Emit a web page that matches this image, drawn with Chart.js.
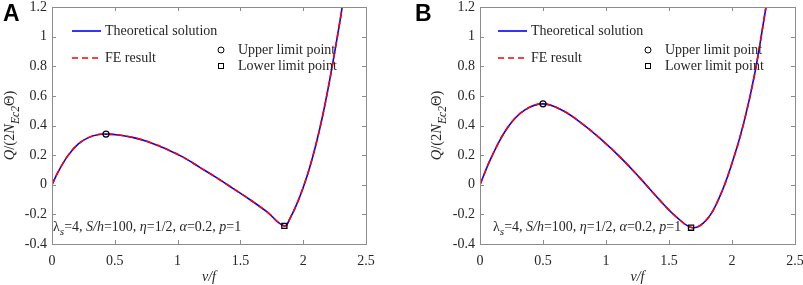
<!DOCTYPE html>
<html>
<head>
<meta charset="utf-8">
<script src="https://cdn.jsdelivr.net/npm/chart.js@4/dist/chart.umd.min.js"></script>
<style>
  html, body { margin: 0; padding: 0; background: #fff; }
  #wrap { position: relative; width: 803px; height: 285px; overflow: hidden; }
  canvas { position: absolute; top: 0; }
  #cA { left: 0; }
  #cB { left: 400px; }
</style>
</head>
<body>
<div id="wrap">
  <canvas id="cA" width="400" height="285"></canvas>
  <canvas id="cB" width="403" height="285"></canvas>
</div>
<script>
// ---------- data ----------
const xA = [0, 0.05, 0.13, 0.21, 0.29, 0.37, 0.43, 0.53, 0.65, 0.78, 0.91, 1.04, 1.18, 1.31, 1.44, 1.58, 1.71, 1.85, 1.90, 1.95, 2.0, 2.05, 2.10, 2.15, 2.20, 2.25, 2.30, 2.31];
const yA = [0, 0.089, 0.2, 0.276, 0.318, 0.339, 0.342, 0.336, 0.318, 0.286, 0.241, 0.188, 0.116, 0.048, -0.024, -0.103, -0.182, -0.278, -0.218, -0.128, -0.018, 0.112, 0.267, 0.447, 0.657, 0.892, 1.142, 1.2];
const upperA = [0.43, 0.342];
const lowerA = [1.85, -0.278];

const xB = [0, 0.093, 0.225, 0.357, 0.498, 0.648, 0.807, 0.966, 1.12, 1.27, 1.43, 1.56, 1.69, 1.80, 1.90, 2.0, 2.09, 2.18, 2.27];
const yB = [0, 0.19, 0.393, 0.505, 0.546, 0.505, 0.415, 0.303, 0.180, 0.045, -0.107, -0.218, -0.29, -0.235, -0.085, 0.145, 0.406, 0.748, 1.2];
const upperB = [0.50, 0.546];
const lowerB = [1.675, -0.29];

const xTickValues = [0, 0.5, 1, 1.5, 2, 2.5];
const xTickLabels = ['0', '0.5', '1', '1.5', '2', '2.5'];
const yTickValues = [-0.4, -0.2, 0, 0.2, 0.4, 0.6, 0.8, 1, 1.2];
const yTickLabels = ['-0.4', '-0.2', '0', '0.2', '0.4', '0.6', '0.8', '1', '1.2'];

const seriesNames = ['Theoretical solution', 'FE result'];
const markerNames = ['Upper limit point', 'Lower limit point'];
const panelLetters = ['A', 'B'];
const annotationParts = [
  ['λ', false, false], ['s', true, true], ['=4, ', false, false],
  ['S/h', true, false], ['=100, ', false, false],
  ['η', true, false], ['=1/2, ', false, false],
  ['α', true, false], ['=0.2, ', false, false],
  ['p', true, false], ['=1', false, false]
];
const yTitleParts = [
  ['Q', true, false], ['/(2', false, false], ['N', true, false],
  ['Ec2', true, true], ['Θ)', false, false]
];
const xTitleParts = [['v/f', true, false]];

// ---------- helpers ----------
const SERIF = '"Liberation Serif", "Times New Roman", serif';
const BLUE = '#0000ff', RED = '#ff0000', TXT = '#262626', AX = '#8c8c8c';

function measureRich(ctx, parts, size) {
  let w = 0;
  for (const [t, it, sub] of parts) {
    const fs = sub ? size * 0.8 : size;
    ctx.font = (it ? 'italic ' : '') + fs + 'px ' + SERIF;
    w += ctx.measureText(t).width;
  }
  return w;
}
function drawRich(ctx, parts, x, y, size) {
  let cx = x;
  ctx.textBaseline = 'alphabetic';
  ctx.textAlign = 'left';
  for (const [t, it, sub] of parts) {
    const fs = sub ? size * 0.8 : size;
    ctx.font = (it ? 'italic ' : '') + fs + 'px ' + SERIF;
    ctx.fillText(t, cx, y + (sub ? size * 0.32 : 0));
    cx += ctx.measureText(t).width;
  }
}
const pts = (xs, ys) => xs.map((x, i) => ({ x: x, y: ys[i] }));
function zeroPad(s) { s.paddingTop = 0; s.paddingBottom = 0; s.paddingLeft = 0; s.paddingRight = 0; }

function makeChart(id, xs, ys, up, lo, cfg) {
  const deco = {
    id: 'deco',
    afterDraw(chart) {
      const ctx = chart.ctx, ca = chart.chartArea;
      const sx = chart.scales.x, sy = chart.scales.y;
      ctx.save();
      // box
      ctx.strokeStyle = AX; ctx.lineWidth = 1;
      ctx.strokeRect(Math.round(ca.left) + 0.5, Math.round(ca.top) + 0.5,
        Math.round(ca.right - ca.left), Math.round(ca.bottom - ca.top));
      // inward ticks on all sides
      ctx.beginPath();
      xTickValues.forEach(v => {
        const p = Math.round(sx.getPixelForValue(v)) + 0.5;
        ctx.moveTo(p, ca.bottom); ctx.lineTo(p, ca.bottom - 4);
        ctx.moveTo(p, ca.top); ctx.lineTo(p, ca.top + 4);
      });
      yTickValues.forEach(v => {
        const p = Math.round(sy.getPixelForValue(v)) + 0.5;
        ctx.moveTo(ca.left, p); ctx.lineTo(ca.left + 4, p);
        ctx.moveTo(ca.right, p); ctx.lineTo(ca.right - 4, p);
      });
      ctx.stroke();

      ctx.fillStyle = TXT;
      // legend
      const lx = ca.left + cfg.legLineX, ly1 = 31, ly2 = 58;
      ctx.lineWidth = 1.6;
      ctx.strokeStyle = BLUE; ctx.setLineDash([]);
      ctx.beginPath(); ctx.moveTo(lx, ly1); ctx.lineTo(lx + 29, ly1); ctx.stroke();
      ctx.strokeStyle = RED; ctx.setLineDash([6, 4]);
      ctx.beginPath(); ctx.moveTo(lx, ly2); ctx.lineTo(lx + 29, ly2); ctx.stroke();
      ctx.setLineDash([]);
      ctx.font = '14px ' + SERIF; ctx.textBaseline = 'middle'; ctx.textAlign = 'left';
      ctx.fillText(seriesNames[0], lx + 33, ly1);
      ctx.fillText(seriesNames[1], lx + 33, ly2);
      const mx = ca.left + cfg.legMarkX, my1 = 50, my2 = 66;
      ctx.strokeStyle = '#000'; ctx.lineWidth = 1;
      ctx.beginPath(); ctx.arc(mx, my1, 3, 0, Math.PI * 2); ctx.stroke();
      ctx.strokeRect(mx - 2.5, my2 - 2.5, 5, 5);
      ctx.fillText(markerNames[0], mx + 17, my1);
      ctx.fillText(markerNames[1], mx + 17, my2);

      // annotation
      drawRich(ctx, annotationParts, ca.left + cfg.annX, 231, 14);

      // axis titles
      const xw = measureRich(ctx, xTitleParts, 14);
      drawRich(ctx, xTitleParts, (ca.left + ca.right) / 2 - xw / 2, 281, 14);
      const yw = measureRich(ctx, yTitleParts, 14.5);
      ctx.save();
      ctx.translate(cfg.yTitleX, (ca.top + ca.bottom) / 2);
      ctx.rotate(-Math.PI / 2);
      drawRich(ctx, yTitleParts, -yw / 2, 0, 14.5);
      ctx.restore();

      // panel letter
      ctx.font = 'bold 23px "Liberation Sans", Arial, sans-serif';
      ctx.fillStyle = '#000'; ctx.textBaseline = 'top'; ctx.textAlign = 'left';
      ctx.fillText(cfg.letter, cfg.letterX, 3);
      ctx.restore();
    }
  };

  return new Chart(document.getElementById(id), {
    type: 'scatter',
    data: {
      datasets: [
        { label: markerNames[0], data: [{ x: up[0], y: up[1] }], pointStyle: 'circle', pointRadius: 3,
          borderColor: '#000', backgroundColor: 'rgba(0,0,0,0)', borderWidth: 1.3, order: 0, showLine: false },
        { label: markerNames[1], data: [{ x: lo[0], y: lo[1] }], pointStyle: 'rect', pointRadius: 3.6,
          borderColor: '#000', backgroundColor: 'rgba(0,0,0,0)', borderWidth: 1.3, order: 0, showLine: false },
        { label: seriesNames[1], data: pts(xs, ys), showLine: true, borderColor: RED, borderWidth: 1.6,
          borderDash: [6, 4], pointRadius: 0, tension: 0.4, order: 1 },
        { label: seriesNames[0], data: pts(xs, ys), showLine: true, borderColor: BLUE, borderWidth: 1.6,
          pointRadius: 0, tension: 0.4, order: 2 }
      ]
    },
    options: {
      responsive: false, animation: false, devicePixelRatio: 1,
      layout: { padding: { left: 0, top: 7, right: cfg.padRight, bottom: 0 } },
      plugins: { legend: { display: false }, tooltip: { enabled: false } },
      scales: {
        x: {
          type: 'linear', min: 0, max: 2.5,
          afterBuildTicks: s => { s.ticks = xTickValues.map(v => ({ value: v })); },
          afterFit: s => { s.height = 41; zeroPad(s); },
          grid: { display: false, drawTicks: false }, border: { display: false },
          ticks: { padding: 9, color: TXT, font: { family: SERIF, size: 14 },
                   callback: (v, i) => xTickLabels[i] }
        },
        y: {
          type: 'linear', min: -0.4, max: 1.2,
          afterBuildTicks: s => { s.ticks = yTickValues.map(v => ({ value: v })); },
          afterFit: s => { s.width = cfg.yWidth; zeroPad(s); },
          grid: { display: false, drawTicks: false }, border: { display: false },
          ticks: { padding: 5, color: TXT, font: { family: SERIF, size: 14 },
                   callback: (v, i) => yTickLabels[i] }
        }
      }
    },
    plugins: [deco]
  });
}

makeChart('cA', xA, yA, upperA, lowerA,
  { padRight: 34, yWidth: 52, legLineX: 20, legMarkX: 169, annX: 1, yTitleX: 14, letter: panelLetters[0], letterX: 3 });
makeChart('cB', xB, yB, upperB, lowerB,
  { padRight: 8, yWidth: 80, legLineX: 18, legMarkX: 168, annX: 13, yTitleX: 41, letter: panelLetters[1], letterX: 15 });
</script>
</body>
</html>
